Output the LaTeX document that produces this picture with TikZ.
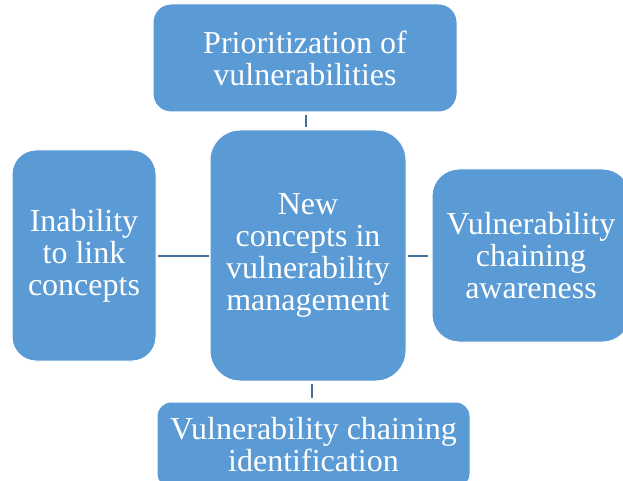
\documentclass[tikz,border=0pt]{standalone}
\usepackage{fontspec}
\setmainfont{Liberation Serif}
\definecolor{boxfill}{HTML}{5B9BD5}
\definecolor{linkcol}{HTML}{41719C}
\begin{document}
\begin{tikzpicture}[x=1pt,y=-1pt,
  box/.style={draw=white, line width=1pt, fill=boxfill, text=white, align=center,
    inner sep=0pt, font=\fontsize{32}{32}\selectfont},
  link/.style={draw=linkcol, line width=2pt}]
\useasboundingbox (0,0) rectangle (623,481);
\clip (0,0) rectangle (623,481);
\node[box, minimum width=304pt, minimum height=108pt, rounded corners=18pt] (top) at (305,58) {Prioritization of\\vulnerabilities};
\node[box, minimum width=196pt, minimum height=251pt, rounded corners=30pt] (center) at (308,255.5) {New\\concepts in\\vulnerability\\management};
\node[box, minimum width=144pt, minimum height=211pt, rounded corners=24pt] (left) at (84,255.5) {Inability\\to link\\concepts};
\node[box, minimum width=198pt, minimum height=173pt, rounded corners=27pt] (right) at (531,255.5) {Vulnerability\\chaining\\awareness};
\node[box, minimum width=313pt, minimum height=86pt, rounded corners=14pt] (bottom) at (313.5,445) {Vulnerability chaining\\identification};
\draw[link, shorten <=3pt, shorten >=2pt] ([xshift=1pt]top.south) -- ([xshift=1pt]top.south |- center.north);
\draw[link, shorten <=1pt, shorten >=1pt] (left.east) -- (center.west);
\draw[link, shorten <=1pt, shorten >=4pt] (center.east) -- (right.west);
\draw[link, shorten <=2pt, shorten >=4pt] ([xshift=4pt]center.south) -- ([xshift=4pt]center.south |- bottom.north);
\end{tikzpicture}
\end{document}
